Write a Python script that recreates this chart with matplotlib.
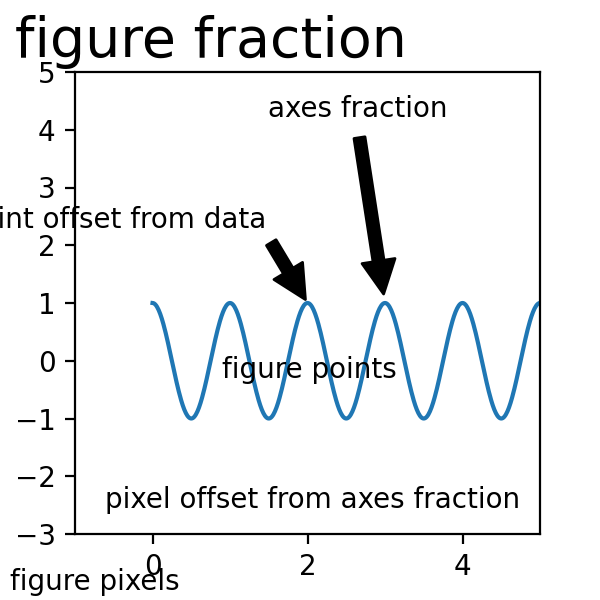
import numpy as np
import matplotlib
matplotlib.use("Agg")
import matplotlib.pyplot as plt

# Curve: a cosine of period 1 and amplitude 1 over t in [0, 5]
t_start, t_stop, t_step = 0.0, 5.0, 0.01
period = 1.0
amplitude = 1.0

# Annotation targets (data coordinates of the two peaks the arrows point to)
peak_offset_xy = (2, 1)
peak_axes_xy = (3, 1)

x_limits = (-1, 5)
y_limits = (-3, 5)

fig, ax = plt.subplots(figsize=(3, 3), dpi=200)

t = np.arange(t_start, t_stop, t_step)
s = amplitude * np.cos(2 * np.pi * t / period)
ax.plot(t, s)

ax.annotate("figure pixels", xy=(10, 10), xycoords="figure pixels")
ax.annotate("figure points", xy=(80, 80), xycoords="figure points", fontsize=10)
ax.annotate("figure fraction", xy=(.025, .975), xycoords="figure fraction",
            horizontalalignment="left", verticalalignment="top", fontsize=20)

ax.annotate("point offset from data", xy=peak_offset_xy, xycoords="data",
            xytext=(-15, 25), textcoords="offset points",
            arrowprops=dict(facecolor="black", shrink=0.05),
            horizontalalignment="right", verticalalignment="bottom")

ax.annotate("axes fraction", xy=peak_axes_xy, xycoords="data",
            xytext=(0.8, 0.95), textcoords="axes fraction",
            arrowprops=dict(facecolor="black", shrink=0.05),
            horizontalalignment="right", verticalalignment="top")

ax.annotate("pixel offset from axes fraction", xy=(1, 0), xycoords="axes fraction",
            xytext=(-20, 20), textcoords="offset pixels",
            horizontalalignment="right", verticalalignment="bottom")

ax.set(xlim=x_limits, ylim=y_limits)

fig.savefig("out.png", dpi=200)
